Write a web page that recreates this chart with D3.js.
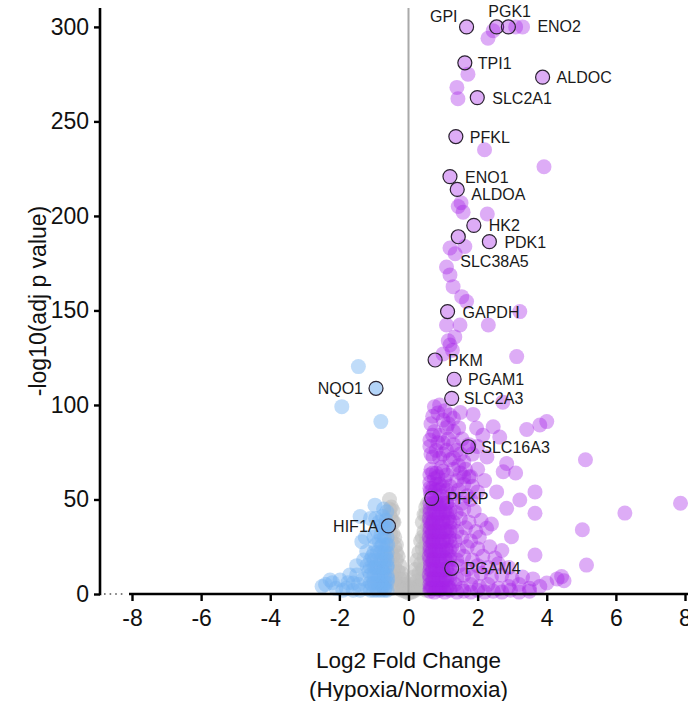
<!DOCTYPE html>
<html>
<head>
<meta charset="utf-8">
<script src="https://cdn.jsdelivr.net/npm/d3@7"></script>
<style>
  body { margin: 0; background: #fff; }
  svg { display: block; }
</style>
</head>
<body>
<div id="chart"></div>
<script>
// ---- data (log2 fold change, -log10 adj p) ----
var x_ticks = [-8, -6, -4, -2, 0, 2, 4, 6, 8];
var y_ticks = [0, 50, 100, 150, 200, 250, 300];

// highlighted genes
var label_names = ["GPI", "PGK1", "ENO2", "TPI1", "ALDOC", "SLC2A1", "PFKL", "ENO1", "ALDOA", "HK2",
                   "SLC38A5", "PDK1", "GAPDH", "PKM", "PGAM1", "SLC2A3", "SLC16A3", "PFKP", "PGAM4",
                   "NQO1", "HIF1A"];
var label_fc = [1.68, 2.55, 2.89, 1.63, 3.88, 1.99, 1.37, 1.2, 1.41, 1.89,
                1.44, 2.34, 1.13, 0.77, 1.32, 1.25, 1.73, 0.67, 1.25,
                -0.94, -0.58];
var label_p = [300, 300, 300, 281, 273.4, 262.6, 242, 220.8, 214, 195,
               189, 186.4, 149.4, 123.8, 113.6, 103.5, 77.9, 50.6, 13.6,
               108.8, 36];

// up in hypoxia (purple)
var up_points = [
  [2.45,298],[3.1,300],[3.3,300],[2.3,294],
  [1.72,275],[1.4,268],[1.43,262],
  [2.2,235],[3.92,226],
  [1.44,205],[1.58,202],[1.52,207],[2.28,201],
  [1.2,183],[1.63,183.8],[1.35,180],
  [1.1,173],[1.2,168.8],[1.29,162.6],[1.54,157.3],[1.68,154.7],
  [3.22,149.4],[1.1,142.3],[1.49,142.3],[2.31,142.3],[1.2,131.7],[1.27,129],[1.34,136],[1.15,134],[3.13,125.6],[1.0,127],
  [0.85,95.8],[1.0,92],[1.2,94.7],[1.87,95],[2.73,101.5],[3.42,87],[3.8,89.4],[4.0,91.2],[2.45,88.5],[1.97,87.8],
  [2.64,83],[2.15,84],[0.62,81.5],[1.0,80],[1.4,76],[0.71,72.5],[1.2,71],[2.27,72.5],[2.84,69],[5.12,71],
  [0.62,78],[0.75,86],[0.9,84],[1.1,88],[1.3,86],[1.55,82],[1.75,79],[0.8,76],[1.0,74],[1.6,70],[1.85,74],[2.0,78],
  [0.65,66],[0.8,64],[0.95,67],[1.1,63],[1.3,66],[1.5,64],[1.75,62],[2.0,66],[2.74,64.7],[3.1,64],
  [0.62,59],[0.75,61],[0.9,58],[1.05,60],[1.2,57],[1.4,60],[1.6,58],[1.85,57],[2.2,60],
  [0.63,54],[0.78,55],[0.92,52],[1.1,55],[1.28,53],[1.45,55],[1.7,52],[2.0,54],[2.55,54],[3.66,54],
  [0.8,49],[0.95,50],[1.12,48],[1.3,50],[1.55,48],[1.8,50],[3.22,49.7],[7.87,48],
  [0.62,45],[0.75,44],[0.9,46],[1.05,44],[1.2,45],[1.38,43],[1.6,45],[1.9,44],[2.84,45.3],[3.66,42.7],[6.26,42.8],
  [0.6,40],[0.72,39],[0.85,41],[1.0,39],[1.15,40],[1.3,38],[1.5,40],[1.75,38],[2.1,39],[2.4,37],
  [0.62,35],[0.76,34],[0.9,36],[1.05,34],[1.22,35],[1.4,33],[1.65,35],[1.95,33],[2.26,34.8],[5.03,34],
  [0.6,30],[0.73,29],[0.88,31],[1.02,29],[1.18,30],[1.35,28],[1.55,30],[1.8,28],[2.05,30],[2.98,30.3],
  [0.62,25],[0.78,24],[0.92,26],[1.08,24],[1.25,25],[1.45,23],[1.7,25],[2.0,24],[2.35,25],[2.7,23],
  [0.6,20],[0.74,19],[0.9,21],[1.05,19],[1.2,20],[1.4,18],[1.6,20],[1.85,18],[2.15,20],[2.5,19],[3.66,20.6],
  [0.63,15],[0.78,14],[0.95,16],[1.12,14],[1.45,15],[1.7,13],[2.0,15],[2.3,14],[2.6,16],[2.9,14],[5.15,15.3],
  [0.6,10],[0.75,9],[0.9,11],[1.05,9],[1.2,10],[1.4,8],[1.6,10],[1.85,9],[2.1,11],[2.4,9],[2.7,10],[3.0,8],[3.3,9],[3.6,8],[4.0,5.8],[4.43,9.2],[4.3,8],[4.5,7],
  [0.62,5],[0.8,4],[0.98,6],[1.15,4],[1.35,5],[1.55,3],[1.8,5],[2.05,4],[2.3,5],[2.6,3],[2.9,4],[3.2,5],[3.5,3],[3.8,4],
  [0.62,1.5],[0.75,1],[0.9,2],[1.05,1],[1.2,2],[1.4,1],[1.6,1.5],[1.8,1],[2.0,2],[2.2,1],[2.45,1.5],[2.7,1],[2.95,2],[3.2,1],[3.5,1.5],
  [0.65,3],[0.7,7],[0.68,12],[0.85,8],[0.7,17],[0.66,22],[0.7,27],[0.68,32],[0.67,37],[0.72,48],[0.65,52],[0.85,3],[1.0,12],[0.95,3],
  // dense core near the threshold
  [0.62,3],[0.7,3],[0.8,3],[0.9,3],[1.0,3],[1.1,3],[1.2,3],
  [0.62,8],[0.7,8],[0.8,8],[0.9,8],[1.0,8],[1.1,8],[1.2,8],
  [0.62,13],[0.7,13],[0.8,13],[0.9,13],[1.0,13],[1.1,13],[1.2,13],
  [0.62,18],[0.7,18],[0.8,18],[0.9,18],[1.0,18],[1.1,18],[1.2,18],
  [0.62,23],[0.7,23],[0.8,23],[0.9,23],[1.0,23],[1.1,23],[1.2,23],
  [0.62,28],[0.7,28],[0.8,28],[0.9,28],[1.0,28],[1.1,28],[1.2,28],
  [0.62,33],[0.7,33],[0.8,33],[0.9,33],[1.0,33],[1.1,33],[1.2,33],
  [0.62,38],[0.7,38],[0.8,38],[0.9,38],[1.0,38],[1.1,38],[1.2,38],
  [0.62,43],[0.7,43],[0.8,43],[0.9,43],[1.0,43],[1.1,43],[1.2,43],
  [0.62,48],[0.7,48],[0.8,48],[0.9,48],[1.0,48],[1.1,48],
  [0.62,56],[0.7,56],[0.8,58],[0.9,55],[1.0,57],
  [0.62,63],[0.7,64],[0.85,62],[1.0,65],
  [0.65,90],[0.7,94],[0.75,99],[0.9,100],[1.05,97],[1.15,90],[1.3,93],[1.5,96],[1.45,88],[0.7,84],[0.85,80],
  [1.15,82],[1.3,79],[0.65,74],[0.9,72],[1.1,76],[1.3,72],[1.5,74],[1.45,68],[1.65,66],[1.8,62],[1.6,62]
];

// down in hypoxia (blue)
var down_points = [
  [-1.45,120.3],[-1.93,99.1],[-0.8,91.2],
  [-0.97,47],[-1.4,41],[-0.63,43.5],[-1.35,27.7],[-1.21,22.4],[-2.27,7.4],[-1.98,7.4],[-1.6,5.8],[-0.88,8],
  [-1.1,40],[-0.85,38],[-0.7,30],[-0.8,25],[-0.65,20],[-0.9,18],[-1.0,30],[-1.15,12],[-0.75,12],[-0.6,8],
  [-0.68,3],[-0.9,2],[-1.2,3],[-1.4,2],[-1.7,10],[-1.5,15],[-2.1,3],[-2.4,5],[-0.62,15],[-0.72,45],
  [-1.05,20],[-0.95,14],[-1.3,8],[-1.8,3],[-0.6,26],[-0.62,35],[-0.75,4],[-1.05,5],
  [-0.62,2],[-0.7,2],[-0.8,2],[-1.0,2],[-1.1,2],
  [-0.62,6],[-0.7,6],[-0.8,6],[-0.9,6],[-1.0,6],[-1.1,6],
  [-0.62,10],[-0.7,10],[-0.8,10],[-0.9,10],[-1.0,10],[-1.1,10],
  [-0.62,14],[-0.7,14],[-0.8,14],[-0.9,14],[-1.0,14],[-1.1,14],
  [-0.62,18],[-0.7,18],[-0.8,18],[-1.0,18],[-1.1,18],
  [-0.62,22],[-0.7,22],[-0.8,22],[-0.9,22],[-1.0,22],
  [-0.65,26],[-0.75,26],[-0.85,28],[-0.95,26],
  [-0.62,30],[-0.8,31],[-0.9,33],[-0.7,35],[-0.8,36],[-0.65,39],[-0.75,41],[-0.95,40],
  [-1.2,15],[-1.3,18],[-1.25,30],[-1.5,10],[-1.6,2],[-1.9,2],[-2.2,6],[-2.5,4],[-1.75,6],[-1.45,5]
];

// not significant (grey)
var ns_points = [
  [-0.55,45],[-0.5,40],[-0.55,35],[-0.45,32],[-0.5,28],[-0.4,25],[-0.45,20],[-0.35,18],[-0.3,12],[-0.4,14],
  [-0.25,8],[-0.5,10],[-0.55,18],[-0.2,5],[-0.15,3],[-0.1,1.5],[-0.35,5],[-0.5,3],[-0.55,50],[-0.42,38],
  [0.55,48],[0.5,42],[0.55,36],[0.45,33],[0.5,27],[0.4,24],[0.45,19],[0.35,16],[0.3,11],[0.4,13],
  [0.25,7],[0.5,9],[0.55,20],[0.2,4],[0.15,2.5],[0.1,1],[0.35,5],[0.5,2],[0.0,0.5],[0.05,1],
  [-0.55,42],[-0.5,46],[-0.45,44],[-0.45,38],[-0.4,30],[-0.35,26],[-0.35,22],[-0.3,20],[-0.25,15],[-0.2,11],
  [-0.15,8],[-0.1,5],[-0.05,3],
  [0.5,46],[0.45,42],[0.4,38],[0.4,30],[0.35,28],[0.3,22],[0.25,18],[0.2,13],[0.15,9],[0.1,5],[0.05,3],
  [-0.3,4],[-0.2,2],[0.3,4],[0.2,2],[-0.4,8],[0.4,8],[-0.45,12],[0.45,13],[-0.5,22],[0.5,24],[-0.52,32],[0.52,30]
];

// ---- layout ----
var width = 688, height = 701;
var r = 7.5;
var font = "'Liberation Sans', Arial, Helvetica, sans-serif";
var up_col = "#a526e8", down_col = "#74b1f2", ns_col = "#bdbdbd";

var svg = d3.select("#chart").append("svg")
    .attr("width", width)
    .attr("height", height)
    .attr("font-family", font);

var x = d3.scaleLinear().domain([-8, 8]).range([132, 685]);
var y = d3.scaleLinear().domain([0, 310]).range([594, 8]);

var dots = svg.append("g");

dots.selectAll(".ns").data(ns_points).enter().append("circle")
    .attr("class", "ns")
    .attr("cx", function(d){ return x(d[0]); })
    .attr("cy", function(d){ return y(d[1]); })
    .attr("r", r)
    .attr("fill", ns_col)
    .attr("fill-opacity", 0.55);

// zero line
svg.append("line")
    .attr("x1", x(0)).attr("x2", x(0))
    .attr("y1", y(310)).attr("y2", y(0))
    .attr("stroke", "#aaaaaa")
    .attr("stroke-width", 2);

var dots2 = svg.append("g");

dots2.selectAll(".down").data(down_points).enter().append("circle")
    .attr("class", "down")
    .attr("cx", function(d){ return x(d[0]); })
    .attr("cy", function(d){ return y(d[1]); })
    .attr("r", r)
    .attr("fill", down_col)
    .attr("fill-opacity", 0.45);

dots2.selectAll(".up").data(up_points).enter().append("circle")
    .attr("class", "up")
    .attr("cx", function(d){ return x(d[0]); })
    .attr("cy", function(d){ return y(d[1]); })
    .attr("r", r)
    .attr("fill", up_col)
    .attr("fill-opacity", 0.38);

// highlighted genes, label offsets in px from the circle centre
var label_off = {
  "GPI": [-9, -5, "end"], "PGK1": [13, -10, "middle"], "ENO2": [29, 5, "start"],
  "TPI1": [13, 6, "start"], "ALDOC": [14, 6, "start"], "SLC2A1": [15, 6, "start"],
  "PFKL": [14, 6, "start"], "ENO1": [15, 6, "start"], "ALDOA": [14, 11, "start"],
  "HK2": [15, 6, "start"], "SLC38A5": [2, 30, "start"], "PDK1": [15, 6, "start"],
  "GAPDH": [15, 6, "start"], "PKM": [13, 6, "start"], "PGAM1": [14, 6, "start"],
  "SLC2A3": [12, 6, "start"], "SLC16A3": [13, 6, "start"], "PFKP": [15, 6, "start"],
  "PGAM4": [13, 6, "start"], "NQO1": [-13, 6, "end"], "HIF1A": [-10, 6, "end"]
};

var hl = label_names.map(function(n, i){ return {name: n, fc: label_fc[i], p: label_p[i]}; });

var hlg = svg.append("g");
hlg.selectAll("circle").data(hl).enter().append("circle")
    .attr("cx", function(d){ return x(d.fc); })
    .attr("cy", function(d){ return y(d.p); })
    .attr("r", 7)
    .attr("fill", function(d){ return d.fc < 0 ? down_col : up_col; })
    .attr("fill-opacity", function(d){ return d.fc < 0 ? 0.55 : 0.38; })
    .attr("stroke", "#2a2230")
    .attr("stroke-width", 1.2);

hlg.selectAll("text").data(hl).enter().append("text")
    .attr("x", function(d){ return x(d.fc) + label_off[d.name][0]; })
    .attr("y", function(d){ return y(d.p) + label_off[d.name][1]; })
    .attr("text-anchor", function(d){ return label_off[d.name][2]; })
    .attr("font-size", "16px")
    .attr("fill", "#1a1a1a")
    .text(function(d){ return d.name; });

// y axis
var yAxis = svg.append("g")
    .attr("transform", "translate(100,0)")
    .call(d3.axisLeft(y).tickValues(y_ticks).tickSize(6).tickPadding(5)
      .tickFormat(function(d){ return String(d); }));
yAxis.attr("font-family", font);
yAxis.select(".domain").remove();
yAxis.append("line")
    .attr("x1", 0).attr("x2", 0)
    .attr("y1", y(310)).attr("y2", y(0) + 1.2)
    .attr("stroke", "#000").attr("stroke-width", 2.6);
yAxis.selectAll(".tick line").attr("stroke", "#000").attr("stroke-width", 2.4);
yAxis.selectAll(".tick text").attr("font-size", "23px").attr("fill", "#111");

// x axis
var xAxis = svg.append("g")
    .attr("transform", "translate(0," + y(0) + ")")
    .call(d3.axisBottom(x).tickValues(x_ticks).tickSize(7).tickPadding(9)
      .tickFormat(function(d){ return String(d); }));
xAxis.attr("font-family", font);
xAxis.select(".domain").remove();
xAxis.append("line")
    .attr("x1", 129).attr("x2", 688)
    .attr("y1", 0).attr("y2", 0)
    .attr("stroke", "#000").attr("stroke-width", 2.6);
xAxis.selectAll(".tick line").attr("stroke", "#000").attr("stroke-width", 2.4);
xAxis.selectAll(".tick text").attr("font-size", "23px").attr("fill", "#111");

// axis break dots
svg.append("line")
    .attr("x1", 104).attr("x2", 126)
    .attr("y1", y(0)).attr("y2", y(0))
    .attr("stroke", "#555")
    .attr("stroke-width", 1.6)
    .attr("stroke-dasharray", "1.6,4");

// titles
svg.append("text")
    .attr("x", x(0)).attr("y", 668)
    .attr("text-anchor", "middle")
    .attr("font-size", "22.5px").attr("fill", "#111")
    .text("Log2 Fold Change");
svg.append("text")
    .attr("x", x(0)).attr("y", 697)
    .attr("text-anchor", "middle")
    .attr("font-size", "22.5px").attr("fill", "#111")
    .text("(Hypoxia/Normoxia)");
svg.append("text")
    .attr("transform", "translate(46," + y(155) + ") rotate(-90)")
    .attr("text-anchor", "middle")
    .attr("font-size", "23px").attr("fill", "#111")
    .text("-log10(adj p value)");
</script>
</body>
</html>
